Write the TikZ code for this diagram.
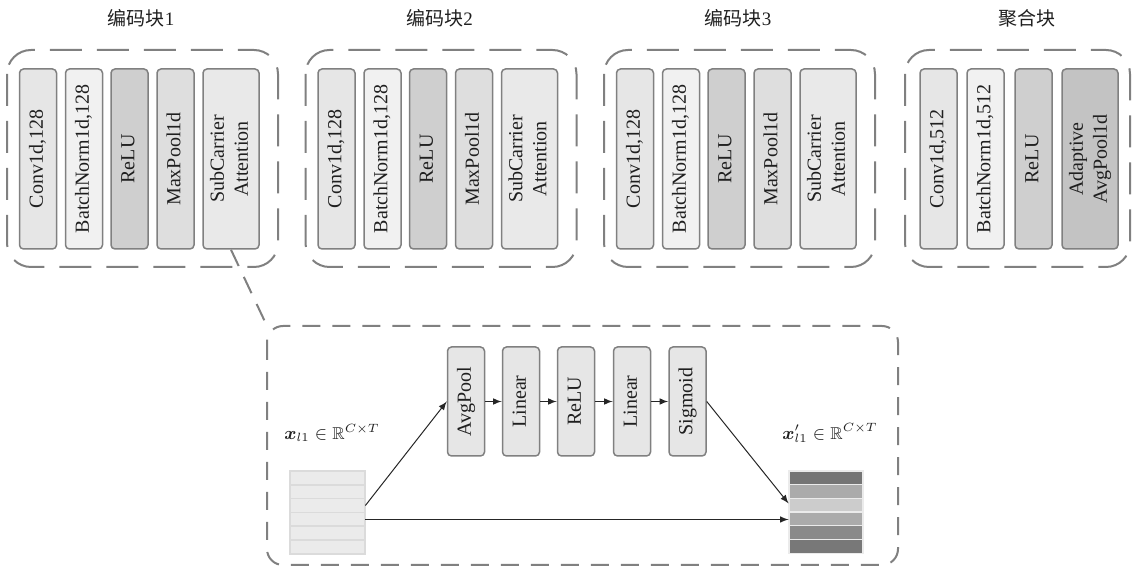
\documentclass[tikz,border=0pt]{standalone}
\usepackage{amsmath,amssymb}
\usepackage{fontspec}
\setmainfont{Liberation Serif}
\newfontfamily\cjk{Noto Sans CJK SC}
\usepackage{graphicx}

\definecolor{edge}{HTML}{808080}
\definecolor{ink}{HTML}{1F1F1F}
\definecolor{convc}{HTML}{E6E6E6}
\definecolor{bnc}{HTML}{F1F1F1}
\definecolor{reluc}{HTML}{CFCFCF}
\definecolor{poolc}{HTML}{DEDEDE}
\definecolor{attc}{HTML}{E9E9E9}
\definecolor{adapc}{HTML}{C3C3C3}

\newcommand{\vtext}[1]{\rotatebox{90}{\begin{tabular}{@{}c@{}}#1\end{tabular}}}

\tikzset{
  layer/.style={draw=edge, line width=0.75pt, rounded corners=2pt, inner sep=0pt,
    minimum width=18.5pt, minimum height=90pt, text=ink},
  wide/.style={minimum width=28pt},
  small/.style={minimum height=54.5pt, fill=convc},
  grouplinestyle/.style={draw=edge, line width=1pt, dash pattern=on 16pt off 7.5pt, rounded corners=12pt},
  zoomline/.style={draw=edge, line width=1pt, dash pattern=on 9pt off 6pt},
  title/.style={font=\fontsize{9.5}{11}\selectfont, text=ink},
  maplabel/.style={text=ink, font=\fontsize{8.6}{10}\selectfont},
  flow/.style={-latex, line width=0.5pt, draw=black!85},
}

\begin{document}
\begin{tikzpicture}[x=0.5pt, y=-0.5pt]
\useasboundingbox (0,0) rectangle (1132,566);

% encoder blocks
\foreach \dx/\t in {0/1, 298.5/2, 597/3} {
  \draw[grouplinestyle] (7+\dx,50) rectangle (278+\dx,267);
  \node[title] (title\t) at (141+\dx,18) {{\cjk 编码块}\t};
  \node[layer, fill=convc] (conv\t) at (38+\dx,159) {\vtext{Conv1d,128}};
  \node[layer, fill=bnc] (bn\t) at (84+\dx,159) {\vtext{BatchNorm1d,128}};
  \node[layer, fill=reluc] (relu\t) at (129.5+\dx,159) {\vtext{ReLU}};
  \node[layer, fill=poolc] (pool\t) at (175.5+\dx,159) {\vtext{MaxPool1d}};
  \node[layer, wide, fill=attc] (att\t) at (231+\dx,159) {\vtext{SubCarrier\\Attention}};
}

% aggregation block
\draw[grouplinestyle] (905,50) rectangle (1130,267);
\node[title] (title4) at (1027,18) {\cjk 聚合块};
\node[layer, fill=convc] (conv4) at (938.5,159) {\vtext{Conv1d,512}};
\node[layer, fill=bnc] (bn4) at (985.5,159) {\vtext{BatchNorm1d,512}};
\node[layer, fill=reluc] (relu4) at (1033.5,159) {\vtext{ReLU}};
\node[layer, wide, fill=adapc] (adap4) at (1090,159) {\vtext{Adaptive\\AvgPool1d}};

% subcarrier attention detail
\draw[grouplinestyle, dash pattern=on 9pt off 6pt, rounded corners=8pt] (267,326) rectangle (898,565);
\coordinate (zoomtl) at (267,326);
\draw[zoomline] (att1.south) -- (zoomtl);

\foreach \n/\x/\t in {avg/466/AvgPool, lin1/521/Linear, relua/576/ReLU, lin2/632/Linear, sig/687.5/Sigmoid}
  \node[layer, small] (\n) at (\x,401.5) {\vtext{\t}};
\foreach \a/\b in {avg/lin1, lin1/relua, relua/lin2, lin2/sig}
  \draw[flow] (\a) -- (\b);

% input and output maps
\foreach \i in {0,...,5}
  \draw[fill=black!8, draw=black!14, line width=0.75pt] (290,471+\i*13.8) rectangle ++(75,13.8);
\node[inner sep=0pt, minimum width=37.5pt, minimum height=41.5pt] (xin) at (327.5,512.5) {};
\foreach \i/\c in {0/54, 1/33, 2/20, 3/33, 4/46, 5/53}
  \draw[fill=black!\c, draw=black!8, line width=0.6pt] (789,471+\i*13.7) rectangle ++(74,13.7);
\node[inner sep=0pt, minimum width=37pt, minimum height=41pt] (xout) at (826,512.5) {};

\node[maplabel] (xinlab) at (332,433) {$\boldsymbol{x}_{l1}\in\mathbb{R}^{C\times T}$};
\node[maplabel] (xoutlab) at (830,433) {$\boldsymbol{x}'_{l1}\in\mathbb{R}^{C\times T}$};

\draw[flow] ([yshift=3.5pt]xin.east) -- (avg.west);
\draw[flow] ([yshift=-3.5pt]xin.east) -- ([yshift=-3.5pt]xout.west);
\draw[flow] (sig.east) -- ([yshift=4.5pt]xout.west);
\end{tikzpicture}
\end{document}
